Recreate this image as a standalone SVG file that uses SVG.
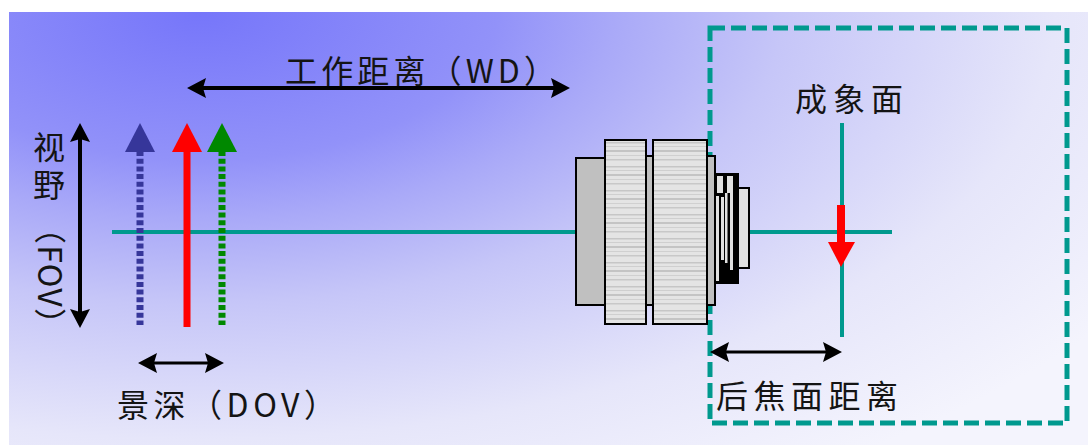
<svg xmlns="http://www.w3.org/2000/svg" width="1088" height="445" viewBox="0 0 1088 445">
  <style>
    .lbl { font-family: "Noto Sans CJK SC", "Noto Sans", sans-serif; font-size: 32px; fill: #141414; }
    .dim { stroke: #000; fill: none; marker-start: url(#ah); marker-end: url(#ah); }
    .teal { stroke: #00998e; fill: none; }
    .shaft { stroke-width: 7; fill: none; }
  </style>
  <defs>
    <radialGradient id="bg" gradientUnits="userSpaceOnUse" cx="200" cy="12" r="1100" gradientTransform="matrix(1 0 0 0.5 0 6)">
      <stop offset="0" stop-color="#7676fa"/>
      <stop offset="0.27" stop-color="#9292f9"/>
      <stop offset="0.376" stop-color="#a9a9f8"/>
      <stop offset="0.53" stop-color="#c6c6f8"/>
      <stop offset="0.777" stop-color="#e6e6fa"/>
      <stop offset="1" stop-color="#f4f4fd"/>
    </radialGradient>
    <!-- fine horizontal ribbing on the focus / iris rings -->
    <pattern id="ribs" patternUnits="userSpaceOnUse" x="0" y="140" width="10" height="24">
      <rect width="10" height="24" fill="#e4e4e4"/>
      <rect y="2" width="10" height="1.5" fill="#c6c6c6"/>
      <rect y="6" width="10" height="1" fill="#cfcfcf"/>
      <rect y="10" width="10" height="2" fill="#c4c4c4"/>
      <rect y="15" width="10" height="1" fill="#d0d0d0"/>
      <rect y="19" width="10" height="1.5" fill="#c8c8c8"/>
    </pattern>
    <marker id="ah" viewBox="0 0 19 20" refX="9" refY="10" markerWidth="19" markerHeight="20" markerUnits="userSpaceOnUse" orient="auto-start-reverse">
      <path d="M0,0 L19,10 L0,20 L3,10 z" fill="#000"/>
    </marker>
    <path id="headUp" d="M0,0 L15,29 L-15,29 z"/>
  </defs>

  <rect width="1088" height="445" fill="#fff"/>
  <rect x="9" y="12" width="1079" height="433" fill="url(#bg)"/>

  <!-- camera body outline (sensor side) -->
  <g id="camera-box">
    <rect class="teal" x="710" y="28" width="357" height="395" stroke-width="5" stroke-dasharray="15 6"/>
  </g>

  <g id="connectors">
    <!-- optical axis -->
    <line class="teal" x1="112" y1="232" x2="892" y2="232" stroke-width="4"/>
    <!-- image plane -->
    <line class="teal" x1="842" y1="123" x2="842" y2="337" stroke-width="4"/>
    <!-- field of view -->
    <line class="dim" x1="80" y1="133" x2="80" y2="318" stroke-width="4"/>
    <!-- working distance -->
    <line class="dim" x1="197" y1="88" x2="560" y2="88" stroke-width="4"/>
    <!-- depth of view -->
    <line class="dim" x1="148" y1="363" x2="214" y2="363" stroke-width="3"/>
    <!-- back focal distance -->
    <line class="dim" x1="720" y1="352" x2="832" y2="352" stroke-width="3"/>
  </g>

  <g id="lens" stroke="#000" stroke-width="2">
    <rect x="576" y="158" width="29" height="147" fill="#c0c0c0"/>
    <rect x="646" y="156" width="7" height="149" fill="#c0c0c0"/>
    <rect x="707" y="156" width="8" height="149" fill="#c0c0c0"/>
    <rect x="605" y="140" width="41" height="184" fill="url(#ribs)"/>
    <rect x="653" y="140" width="54" height="184" fill="url(#ribs)"/>
    <rect x="715" y="174" width="23" height="109" fill="#000"/>
    <g stroke="none" fill="#e0e0e0">
      <rect x="717" y="176" width="6" height="17"/>
      <rect x="727" y="176" width="6" height="17"/>
      <rect x="716" y="196" width="3" height="85"/>
      <rect x="721" y="197" width="3" height="63"/>
      <rect x="725" y="193" width="2.5" height="70"/>
      <rect x="730" y="193" width="3" height="77"/>
    </g>
    <rect x="738" y="188" width="11" height="80" fill="#e0e0e0"/>
  </g>

  <g id="object-blue">
    <line class="shaft" x1="140" y1="151" x2="140" y2="325" stroke="#36369a" stroke-dasharray="5 2.7"/>
    <use href="#headUp" x="140" y="123" fill="#36369a"/>
  </g>
  <g id="object-red">
    <line class="shaft" x1="187" y1="151" x2="187" y2="327" stroke="#ff0000"/>
    <use href="#headUp" x="187" y="123" fill="#ff0000"/>
  </g>
  <g id="object-green">
    <line class="shaft" x1="222" y1="151" x2="222" y2="325" stroke="#008800" stroke-dasharray="5 2.7"/>
    <use href="#headUp" x="222" y="123" fill="#008800"/>
  </g>
  <g id="image">
    <line x1="841" y1="205" x2="841" y2="244" stroke="#ff0000" stroke-width="8"/>
    <path d="M828,242 L855,242 L841,267 z" fill="#ff0000"/>
  </g>

  <g id="labels">
    <text class="lbl" x="285" y="83" textLength="271" lengthAdjust="spacing">工作距离（WD）</text>
    <text class="lbl" writing-mode="vertical-rl" x="49" y="131" letter-spacing="6">视野</text>
    <text class="lbl" transform="rotate(90)" x="212" y="-38" textLength="128" lengthAdjust="spacing">（FOV）</text>
    <text class="lbl" x="117" y="417" textLength="219" lengthAdjust="spacing">景深（DOV）</text>
    <text class="lbl" x="795" y="111" textLength="108" lengthAdjust="spacing">成象面</text>
    <text class="lbl" x="716" y="408" textLength="182" lengthAdjust="spacing">后焦面距离</text>
  </g>
</svg>
